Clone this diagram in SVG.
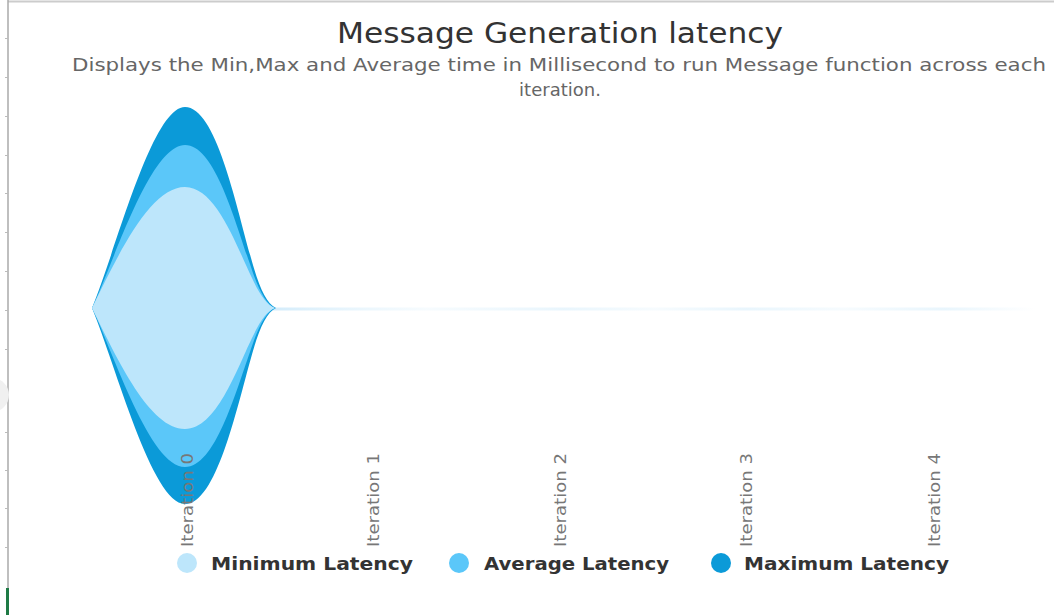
<svg xmlns="http://www.w3.org/2000/svg" width="1054" height="615" viewBox="0 0 1054 615">
<style>
.title{font-family:"DejaVu Sans","Liberation Sans",sans-serif;font-size:29px;fill:#333;}
.sub{font-family:"DejaVu Sans","Liberation Sans",sans-serif;font-size:18px;fill:#666;}
.axis{font-family:"DejaVu Sans","Liberation Sans",sans-serif;font-size:16px;fill:#777;}
.leg{font-family:"DejaVu Sans","Liberation Sans",sans-serif;font-size:18px;font-weight:bold;fill:#333;}
.tick{stroke:#bbb;stroke-width:1;}
</style>
<defs>
<linearGradient id="thin" x1="275" y1="0" x2="1035" y2="0" gradientUnits="userSpaceOnUse">
<stop offset="0" stop-color="#cfeafa" stop-opacity="0.9"/>
<stop offset="0.12" stop-color="#e3f3fc" stop-opacity="0.7"/>
<stop offset="0.2" stop-color="#e3f3fc" stop-opacity="0.3"/>
<stop offset="0.38" stop-color="#e3f3fc" stop-opacity="0.8"/>
<stop offset="0.5" stop-color="#e3f3fc" stop-opacity="0.3"/>
<stop offset="0.62" stop-color="#e3f3fc" stop-opacity="0.8"/>
<stop offset="0.75" stop-color="#e3f3fc" stop-opacity="0.3"/>
<stop offset="0.88" stop-color="#e3f3fc" stop-opacity="0.8"/>
<stop offset="1" stop-color="#e3f3fc" stop-opacity="0"/>
</linearGradient>
</defs>
<rect width="1054" height="615" fill="#fff"/>
<g id="frame">
<line x1="8" y1="1.5" x2="1054" y2="1.5" stroke="#ccc" stroke-width="2"/>
<line x1="8" y1="0" x2="8" y2="615" stroke="#aaa" stroke-width="1.5"/>
<g class="tick">
<line x1="5" y1="38.5" x2="8" y2="38.5"/><line x1="5" y1="77.5" x2="8" y2="77.5"/><line x1="5" y1="116.5" x2="8" y2="116.5"/>
<line x1="5" y1="155.5" x2="8" y2="155.5"/><line x1="5" y1="193.5" x2="8" y2="193.5"/><line x1="5" y1="232.5" x2="8" y2="232.5"/>
<line x1="5" y1="271.5" x2="8" y2="271.5"/><line x1="5" y1="310.5" x2="8" y2="310.5"/><line x1="5" y1="349.5" x2="8" y2="349.5"/>
<line x1="5" y1="393.5" x2="8" y2="393.5"/><line x1="5" y1="432.5" x2="8" y2="432.5"/><line x1="5" y1="470.5" x2="8" y2="470.5"/>
<line x1="5" y1="508.5" x2="8" y2="508.5"/><line x1="5" y1="547.5" x2="8" y2="547.5"/>
</g>
<circle cx="-8" cy="395" r="17" fill="#f0f0f0"/>
<line x1="7.5" y1="588" x2="7.5" y2="615" stroke="#1e7a45" stroke-width="3"/>
</g>
<g id="title">
<text class="title" x="560" y="43" text-anchor="middle" textLength="446" lengthAdjust="spacingAndGlyphs">Message Generation latency</text>
<text class="sub" x="559" y="71" text-anchor="middle" textLength="974" lengthAdjust="spacingAndGlyphs">Displays the Min,Max and Average time in Millisecond to run Message function across each</text>
<text class="sub" x="560" y="96" text-anchor="middle">iteration.</text>
</g>
<g id="connectors">
<line x1="272" y1="309" x2="1035" y2="309" stroke="url(#thin)" stroke-width="3"/>
</g>
<g id="max-latency">
<path fill="#0b9ad8" d="M92,308 C116,250 152,107 185,107 C216,107 236,205 251,258 C259,287 266,303 276,308 C266,313 259,329 251,358 C236,411 216,504 185,504 C152,504 116,366 92,308 Z"/>
</g>
<g id="avg-latency">
<path fill="#5bc7f9" d="M92,308 C114,262 150,145 185,145 C215,145 235,222 250,264 C258,289 266,304 275,308 C266,312 258,327 250,352 C235,394 215,467 185,467 C150,467 114,354 92,308 Z"/>
</g>
<g id="min-latency">
<path fill="#bde6fb" d="M92,308 C118,255 150,187 185,187 C216,187 236,245 252,278 C260,295 267,305 275,308 C267,311 260,321 252,338 C236,371 216,429 185,429 C150,429 118,361 92,308 Z"/>
</g>
<g id="axis">
<text class="axis" transform="translate(193,547) rotate(-90)" textLength="94" lengthAdjust="spacingAndGlyphs">Iteration 0</text>
<text class="axis" transform="translate(379,547) rotate(-90)" textLength="94" lengthAdjust="spacingAndGlyphs">Iteration 1</text>
<text class="axis" transform="translate(566,547) rotate(-90)" textLength="94" lengthAdjust="spacingAndGlyphs">Iteration 2</text>
<text class="axis" transform="translate(752,547) rotate(-90)" textLength="94" lengthAdjust="spacingAndGlyphs">Iteration 3</text>
<text class="axis" transform="translate(940,547) rotate(-90)" textLength="94" lengthAdjust="spacingAndGlyphs">Iteration 4</text>
</g>
<g id="legend">
<circle cx="187" cy="563" r="10" fill="#bde6fb"/>
<text class="leg" x="211" y="570" textLength="202" lengthAdjust="spacingAndGlyphs">Minimum Latency</text>
<circle cx="459" cy="563" r="10" fill="#5bc7f9"/>
<text class="leg" x="484" y="570" textLength="185" lengthAdjust="spacingAndGlyphs">Average Latency</text>
<circle cx="721" cy="563" r="10" fill="#0b9ad8"/>
<text class="leg" x="744" y="570" textLength="205" lengthAdjust="spacingAndGlyphs">Maximum Latency</text>
</g>
</svg>
